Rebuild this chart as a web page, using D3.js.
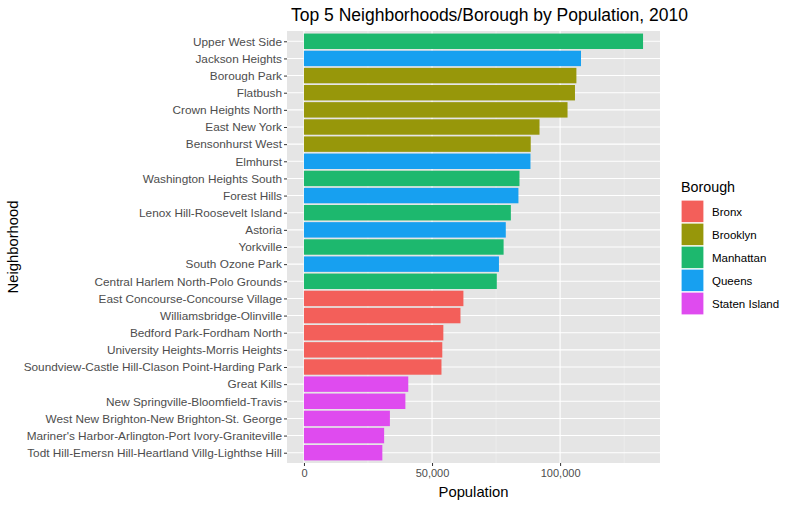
<!DOCTYPE html>
<html>
<head>
<meta charset="utf-8">
<script src="https://cdn.jsdelivr.net/npm/d3@7"></script>
<style>
  body { margin: 0; background: #fff; font-family: "Liberation Sans", Arial, sans-serif; }
  svg text { font-family: "Liberation Sans", Arial, sans-serif; }
</style>
</head>
<body>
<script>
// Data, top to bottom
var neighborhoods = [
  "Upper West Side", "Jackson Heights", "Borough Park", "Flatbush", "Crown Heights North",
  "East New York", "Bensonhurst West", "Elmhurst", "Washington Heights South", "Forest Hills",
  "Lenox Hill-Roosevelt Island", "Astoria", "Yorkville", "South Ozone Park",
  "Central Harlem North-Polo Grounds", "East Concourse-Concourse Village", "Williamsbridge-Olinville",
  "Bedford Park-Fordham North", "University Heights-Morris Heights",
  "Soundview-Castle Hill-Clason Point-Harding Park", "Great Kills", "New Springville-Bloomfield-Travis",
  "West New Brighton-New Brighton-St. George", "Mariner's Harbor-Arlington-Port Ivory-Graniteville",
  "Todt Hill-Emersn Hill-Heartland Villg-Lighthse Hill"
];
var population = [
  132378, 108152, 106357, 105804, 102900,
  91958, 88530, 88427, 84134, 83728,
  80771, 78793, 77942, 76125,
  75282, 62250, 61100,
  54415, 54000,
  53686, 40720, 39597,
  33551, 31300,
  30600
];
var borough = [
  "Manhattan", "Queens", "Brooklyn", "Brooklyn", "Brooklyn",
  "Brooklyn", "Brooklyn", "Queens", "Manhattan", "Queens",
  "Manhattan", "Queens", "Manhattan", "Queens",
  "Manhattan", "Bronx", "Bronx",
  "Bronx", "Bronx",
  "Bronx", "Staten Island", "Staten Island",
  "Staten Island", "Staten Island",
  "Staten Island"
];
var boroughs = ["Bronx", "Brooklyn", "Manhattan", "Queens", "Staten Island"];
var boroughColors = ["#F35F5A", "#97970A", "#1DB86E", "#17A0F0", "#DF4BEF"];
var xTicks = [0, 50000, 100000];
var xMinor = [25000, 75000, 125000];

var width = 795, height = 506;
var panel = { left: 287, top: 31, right: 660, bottom: 463 };

var svg = d3.select("body").append("svg")
    .attr("width", width)
    .attr("height", height);

var maxPop = d3.max(population);
var x = d3.scaleLinear()
    .domain([-0.05 * maxPop, 1.05 * maxPop])
    .range([panel.left, panel.right]);

// discrete scale with ggplot-ish 0.6 expansion
var n = neighborhoods.length;
var step = (panel.bottom - panel.top) / (n - 1 + 1.2);
var y = d3.scalePoint()
    .domain(neighborhoods)
    .range([panel.top + 0.6 * step, panel.bottom - 0.6 * step]);

var color = d3.scaleOrdinal().domain(boroughs).range(boroughColors);

// panel background
svg.append("rect")
    .attr("x", panel.left).attr("y", panel.top)
    .attr("width", panel.right - panel.left)
    .attr("height", panel.bottom - panel.top)
    .attr("fill", "#E5E5E5");

// minor grid
svg.append("g").selectAll("line")
    .data(xMinor)
    .enter().append("line")
    .attr("x1", function(d) { return x(d); }).attr("x2", function(d) { return x(d); })
    .attr("y1", panel.top).attr("y2", panel.bottom)
    .attr("stroke", "#F2F2F2").attr("stroke-width", 0.6);

// major grid
svg.append("g").selectAll("line")
    .data(xTicks)
    .enter().append("line")
    .attr("x1", function(d) { return x(d); }).attr("x2", function(d) { return x(d); })
    .attr("y1", panel.top).attr("y2", panel.bottom)
    .attr("stroke", "#fff").attr("stroke-width", 1.1);

svg.append("g").selectAll("line")
    .data(neighborhoods)
    .enter().append("line")
    .attr("x1", panel.left).attr("x2", panel.right)
    .attr("y1", function(d) { return y(d); }).attr("y2", function(d) { return y(d); })
    .attr("stroke", "#fff").attr("stroke-width", 1.1);

// bars
var barH = step * 0.9;
svg.append("g").selectAll("rect")
    .data(neighborhoods)
    .enter().append("rect")
    .attr("x", x(0))
    .attr("y", function(d) { return y(d) - barH / 2; })
    .attr("width", function(d, i) { return x(population[i]) - x(0); })
    .attr("height", barH)
    .attr("fill", function(d, i) { return color(borough[i]); });

// y axis
var yAxis = d3.axisLeft(y).tickSize(3).tickPadding(2);
var gy = svg.append("g")
    .attr("transform", "translate(" + panel.left + ",0)")
    .call(yAxis);
gy.select(".domain").remove();
gy.selectAll(".tick line").attr("stroke", "#333").attr("stroke-width", 1);
gy.selectAll(".tick text").attr("fill", "#4D4D4D").style("font-size", "11.8px");

// x axis
var xAxis = d3.axisBottom(x).tickValues(xTicks).tickSize(3).tickPadding(3)
    .tickFormat(d3.format(","));
var gx = svg.append("g")
    .attr("transform", "translate(0," + panel.bottom + ")")
    .call(xAxis);
gx.select(".domain").remove();
gx.selectAll(".tick line").attr("stroke", "#333").attr("stroke-width", 1);
gx.selectAll(".tick text").attr("fill", "#4D4D4D").style("font-size", "11px");

// titles
svg.append("text")
    .attr("x", 291).attr("y", 21)
    .style("font-size", "17.5px")
    .attr("fill", "#000")
    .text("Top 5 Neighborhoods/Borough by Population, 2010");

svg.append("text")
    .attr("x", (panel.left + panel.right) / 2).attr("y", 497)
    .attr("text-anchor", "middle")
    .style("font-size", "14.8px")
    .text("Population");

svg.append("text")
    .attr("transform", "translate(18," + ((panel.top + panel.bottom) / 2) + ") rotate(-90)")
    .attr("text-anchor", "middle")
    .style("font-size", "14.8px")
    .text("Neighborhood");

// legend
var legend = svg.append("g").attr("transform", "translate(681,0)");
legend.append("text")
    .attr("x", 0).attr("y", 192)
    .style("font-size", "14.3px")
    .text("Borough");

var keys = legend.selectAll("g.key")
    .data(boroughs)
    .enter().append("g")
    .attr("class", "key")
    .attr("transform", function(d, i) { return "translate(0," + (200 + i * 23) + ")"; });
keys.append("rect")
    .attr("width", 23).attr("height", 23)
    .attr("fill", function(d) { return color(d); })
    .attr("stroke", "#fff").attr("stroke-width", 1.2);
keys.append("text")
    .attr("x", 31).attr("y", 15.5)
    .style("font-size", "11.5px")
    .attr("fill", "#000")
    .text(function(d) { return d; });
</script>
</body>
</html>
